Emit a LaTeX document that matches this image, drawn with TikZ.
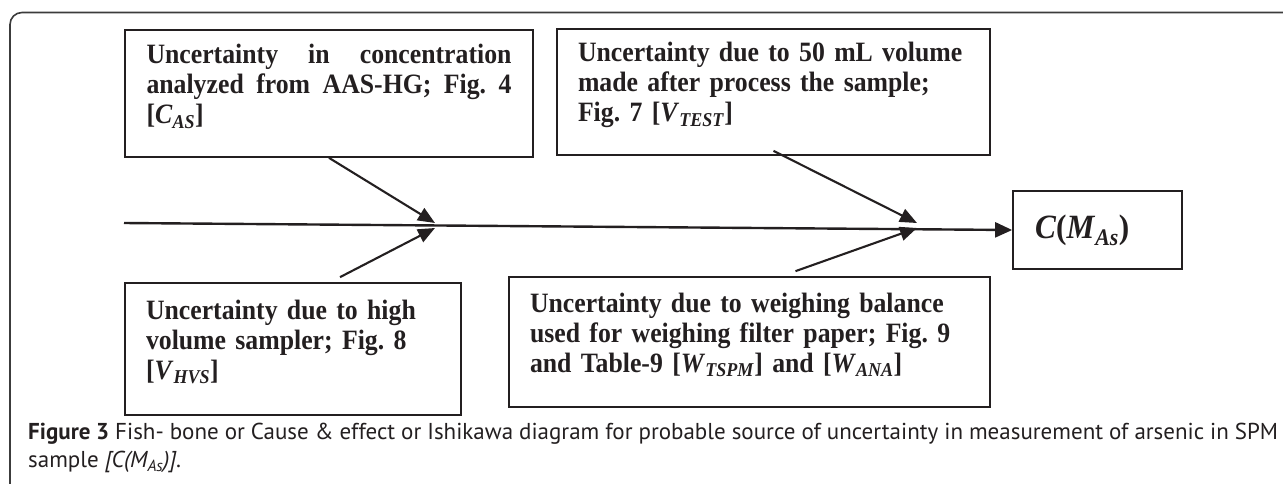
\documentclass[tikz,border=0pt]{standalone}
\usepackage{fontspec}
\setmainfont{Liberation Serif}[FakeStretch=0.92]
\newfontfamily\capfont{PT Sans}
\usepackage{tikz}
\usetikzlibrary{arrows.meta}
\definecolor{ink}{RGB}{35,31,32}
\definecolor{rim}{RGB}{60,60,60}
\hyphenpenalty=10000
\exhyphenpenalty=10000
\frenchspacing
\newcommand{\liftbox}{\endgraf\kern14pt}

\begin{document}
\begin{tikzpicture}[
   x=1pt,y=-1pt,
   font=\bfseries\fontsize{28}{30}\selectfont,
   cause/.style={draw=ink,line width=1.7pt,inner sep=0pt,text=ink,execute at end node=\liftbox},
   effect/.style={draw=ink,line width=1.7pt,inner sep=0pt,text=ink,font=\bfseries\fontsize{34}{34}\selectfont},
   spine/.style={-{Triangle[length=17pt,width=15pt]},line width=2.4pt,draw=ink},
   bone/.style={-{Triangle[length=17pt,width=14pt]},line width=2.1pt,draw=ink},
   caption/.style={anchor=north west,inner sep=0pt,text width=1250pt,align=justify,text=ink,
      font=\capfont\mdseries\fontsize{23}{28}\selectfont}]
\useasboundingbox (0,0) rectangle (1283,483);
\draw[rim,line width=1.6pt,rounded corners=12pt] (10,495) -- (10,12.5) -- (1295,12.5);
% causes
\node[cause,minimum width=408pt,minimum height=127pt,text width=365pt,align=justify] (C_{AS}) at (329,93.5)
   {Uncertainty in concentration\linebreak analyzed from AAS-HG; Fig. 4\linebreak {[}\textit{C}\textsubscript{\textit{AS}}]};
\node[cause,minimum width=433pt,minimum height=126pt,text width=391pt,align=left] (V_{TEST}) at (773.5,92)
   {Uncertainty due to 50 mL volume\\ made after process the sample;\\ Fig. 7 [\textit{V}\textsubscript{\textit{TEST}}]};
\node[cause,minimum width=336pt,minimum height=132pt,text width=294pt,align=left] (V_{HVS}) at (293,349)
   {Uncertainty due to high\\ volume sampler; Fig. 8\\ {[}\textit{V}\textsubscript{\textit{HVS}}]};
\node[cause,minimum width=481pt,minimum height=130pt,text width=439pt,align=left] (W_{TSPM}) at (749.5,342)
   {Uncertainty due to weighing balance\\ used for weighing filter paper; Fig. 9\\ and Table-9 [\textit{W}\textsubscript{\textit{TSPM}}] and [\textit{W}\textsubscript{\textit{ANA}}]};
% effect
\node[effect,minimum width=169pt,minimum height=78pt,text width=125pt,align=left] (M_{As}) at (1097.5,230)
   {\textit{C}(\textit{M}\textsubscript{\textit{As}})};
\coordinate (tail) at (124,223);
\coordinate (jl) at (435,223);
\coordinate (jr) at (917,223);
\draw[spine] (tail) -- (M_{As}.west);
\draw[bone] (C_{AS}.south) to (jl);
\draw[bone] ([xshift=47pt,yshift=5pt]V_{HVS}.north) to ([yshift=-5pt]jl);
\draw[bone] ([yshift=5pt]V_{TEST}.south) to (jr);
\draw[bone] ([xshift=46pt,yshift=5pt]W_{TSPM}.north) to ([yshift=-5pt]jr);
% caption
\node[caption] (fig) at (28,423)
   {{\bfseries Figure 3} Fish- bone or Cause \& effect or Ishikawa diagram for probable source of uncertainty in measurement of arsenic in SPM\linebreak sample \textit{[C(M\textsubscript{As})]}.};
\end{tikzpicture}
\end{document}
